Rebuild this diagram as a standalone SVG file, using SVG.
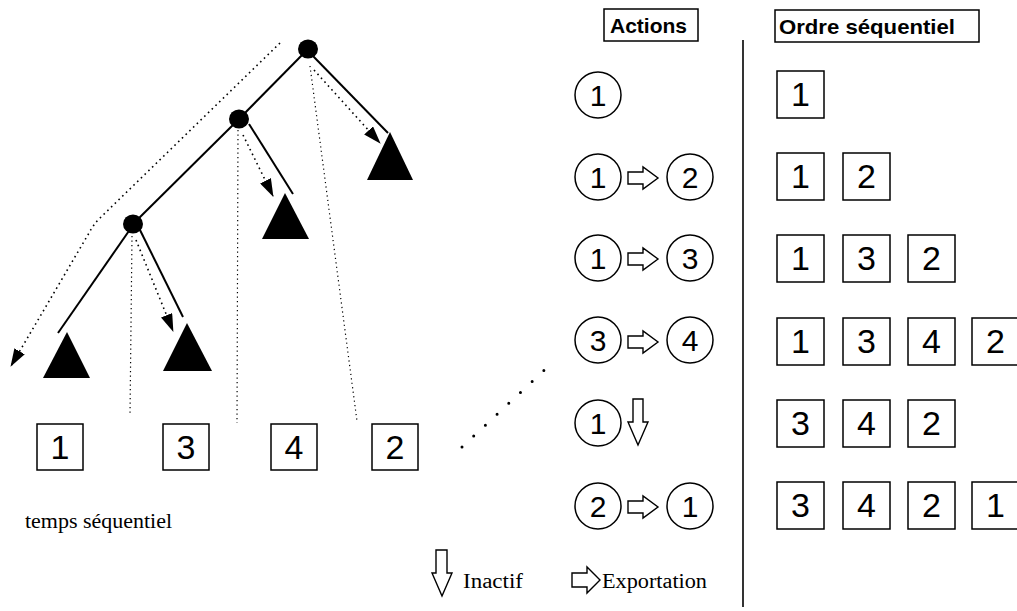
<svg xmlns="http://www.w3.org/2000/svg" width="1017" height="611" viewBox="0 0 1017 611">
<style>
.solid{stroke:#000;stroke-width:2;fill:none}
.dot{stroke:#000;stroke-width:1.6;fill:none;stroke-dasharray:1.6 3.6}
.fdot{stroke:#000;stroke-width:1.2;fill:none;stroke-dasharray:1.2 3.3}
.bigdot{stroke:#000;stroke-width:3;fill:none;stroke-dasharray:0 16;stroke-linecap:round}
.node{fill:#000}
.leaf{fill:#000}
.box{fill:#fff;stroke:#000;stroke-width:1.5}
.circ{fill:#fff;stroke:#000;stroke-width:1.5}
.blk{fill:#fff;stroke:#000;stroke-width:1.4;stroke-linejoin:miter}
.num{font-family:"Liberation Sans",Arial,sans-serif;font-size:34px;text-anchor:middle;fill:#000}
.cnum{font-family:"Liberation Sans",Arial,sans-serif;font-size:30px;text-anchor:middle;fill:#000}
.hdr{font-family:"Liberation Sans",Arial,sans-serif;font-size:21px;font-weight:bold;fill:#000}
.ser{font-family:"Liberation Serif","Times New Roman",serif;font-size:20px;fill:#000}
</style>
<defs>
<marker id="ah" viewBox="0 0 18 12" refX="17" refY="6" markerWidth="18" markerHeight="12" markerUnits="userSpaceOnUse" orient="auto">
<path d="M0,0 L18,6 L0,12 Z" fill="#000"/>
</marker>
</defs>

<g id="connectors">
<line class="solid" x1="308" y1="49" x2="239" y2="119"/>
<line class="solid" x1="312" y1="55" x2="388" y2="133"/>
<line class="solid" x1="239" y1="119" x2="133" y2="224"/>
<line class="solid" x1="249" y1="124" x2="293" y2="194"/>
<line class="solid" x1="131" y1="228" x2="58" y2="333"/>
<line class="solid" x1="139" y1="228" x2="183" y2="317"/>
<line class="dot" x1="314" y1="70" x2="380" y2="143" marker-end="url(#ah)"/>
<line class="dot" x1="243" y1="135" x2="273" y2="196" marker-end="url(#ah)"/>
<line class="dot" x1="136" y1="240" x2="173" y2="331" marker-end="url(#ah)"/>
<path class="dot" d="M280,43 L100,218 Q93,225 89,233 L11,366" marker-end="url(#ah)"/>
<line class="fdot" x1="310" y1="66" x2="357" y2="421"/>
<line class="fdot" x1="238" y1="130" x2="237" y2="423"/>
<line class="fdot" x1="132" y1="236" x2="130" y2="415"/>
<line class="bigdot" x1="462" y1="447" x2="553" y2="362"/>
<line x1="743" y1="40" x2="743" y2="607" stroke="#000" stroke-width="1.6"/>
</g>

<g id="tree-nodes">
<ellipse id="n-root" class="node" cx="308" cy="49" rx="10" ry="9.5"/>
<ellipse id="n-mid" class="node" cx="239" cy="119" rx="10" ry="9.5"/>
<ellipse id="n-low" class="node" cx="133" cy="224" rx="10" ry="9.5"/>
<polygon id="t-right" class="leaf" points="390,132 413,180 367,180"/>
<polygon id="t-mid" class="leaf" points="285,193 309,239 262,239"/>
<polygon id="t-lowr" class="leaf" points="187,323 212,371 163,371"/>
<polygon id="t-lowl" class="leaf" points="67,332 90,378 43,378"/>
</g>

<g id="time-boxes">
<g id="tb1"><rect class="box" x="37" y="424" width="46" height="46"/><text class="num" x="60" y="459">1</text></g>
<g id="tb3"><rect class="box" x="163" y="424" width="46" height="46"/><text class="num" x="186" y="459">3</text></g>
<g id="tb4"><rect class="box" x="271" y="424" width="46" height="46"/><text class="num" x="294" y="459">4</text></g>
<g id="tb2"><rect class="box" x="372" y="424" width="46" height="46"/><text class="num" x="395" y="459">2</text></g>
</g>

<text id="lbl-temps" class="ser" x="25" y="528" textLength="147" lengthAdjust="spacingAndGlyphs">temps séquentiel</text>

<g id="hdr-actions"><rect class="box" x="604" y="9" width="94" height="32"/><text class="hdr" x="610" y="33">Actions</text></g>
<g id="hdr-ordre"><rect class="box" x="775" y="10" width="204" height="32"/><text class="hdr" x="779" y="34" textLength="176" lengthAdjust="spacingAndGlyphs">Ordre séquentiel</text></g>

<g id="actions">
<g id="a1"><circle class="circ" cx="598" cy="95" r="23"/><text class="cnum" x="598" y="106">1</text></g>
<g id="a2">
<circle class="circ" cx="598" cy="177" r="23"/><text class="cnum" x="598" y="188">1</text>
<path class="blk" d="M628,172 H643 V167 L658,178 L643,189 V184 H628 Z"/>
<circle class="circ" cx="690" cy="177" r="23"/><text class="cnum" x="690" y="188">2</text>
</g>
<g id="a3">
<circle class="circ" cx="598" cy="258" r="23"/><text class="cnum" x="598" y="269">1</text>
<path class="blk" d="M628,253 H643 V248 L658,259 L643,270 V265 H628 Z"/>
<circle class="circ" cx="690" cy="258" r="23"/><text class="cnum" x="690" y="269">3</text>
</g>
<g id="a4">
<circle class="circ" cx="598" cy="340" r="23"/><text class="cnum" x="598" y="351">3</text>
<path class="blk" d="M628,336 H643 V331 L658,342 L643,353 V348 H628 Z"/>
<circle class="circ" cx="690" cy="340" r="23"/><text class="cnum" x="690" y="351">4</text>
</g>
<g id="a5">
<circle class="circ" cx="598" cy="423" r="23"/><text class="cnum" x="598" y="434">1</text>
<path class="blk" d="M633,399 H643 V422 H648 L638,445 L628,422 H633 Z"/>
</g>
<g id="a6">
<circle class="circ" cx="598" cy="506" r="23"/><text class="cnum" x="598" y="517">2</text>
<path class="blk" d="M628,501 H643 V496 L658,507 L643,518 V513 H628 Z"/>
<circle class="circ" cx="690" cy="506" r="23"/><text class="cnum" x="690" y="517">1</text>
</g>
</g>

<g id="order">
<g id="o1"><rect class="box" x="777" y="71" width="47" height="47"/><text class="num" x="800.5" y="106">1</text></g>
<g id="o2">
<rect class="box" x="777" y="153" width="47" height="47"/><text class="num" x="800.5" y="188">1</text>
<rect class="box" x="843" y="153" width="47" height="47"/><text class="num" x="866.5" y="188">2</text>
</g>
<g id="o3">
<rect class="box" x="777" y="235" width="47" height="47"/><text class="num" x="800.5" y="270">1</text>
<rect class="box" x="843" y="235" width="47" height="47"/><text class="num" x="866.5" y="270">3</text>
<rect class="box" x="908" y="235" width="47" height="47"/><text class="num" x="931.5" y="270">2</text>
</g>
<g id="o4">
<rect class="box" x="777" y="318" width="47" height="47"/><text class="num" x="800.5" y="353">1</text>
<rect class="box" x="843" y="318" width="47" height="47"/><text class="num" x="866.5" y="353">3</text>
<rect class="box" x="908" y="318" width="47" height="47"/><text class="num" x="931.5" y="353">4</text>
<rect class="box" x="972" y="318" width="47" height="47"/><text class="num" x="995.5" y="353">2</text>
</g>
<g id="o5">
<rect class="box" x="777" y="400" width="47" height="47"/><text class="num" x="800.5" y="435">3</text>
<rect class="box" x="843" y="400" width="47" height="47"/><text class="num" x="866.5" y="435">4</text>
<rect class="box" x="908" y="400" width="47" height="47"/><text class="num" x="931.5" y="435">2</text>
</g>
<g id="o6">
<rect class="box" x="777" y="482" width="47" height="47"/><text class="num" x="800.5" y="517">3</text>
<rect class="box" x="843" y="482" width="47" height="47"/><text class="num" x="866.5" y="517">4</text>
<rect class="box" x="908" y="482" width="47" height="47"/><text class="num" x="931.5" y="517">2</text>
<rect class="box" x="972" y="482" width="47" height="47"/><text class="num" x="995.5" y="517">1</text>
</g>
</g>

<g id="legend">
<g id="lg-inactif">
<path class="blk" d="M436,550 H447 V573 H452 L442,596 L432,573 H436 Z"/>
<text class="ser" x="463" y="588" textLength="60" lengthAdjust="spacingAndGlyphs">Inactif</text>
</g>
<g id="lg-export">
<path class="blk" d="M572,573 H587 V567 L600,580 L587,593 V587 H572 Z"/>
<text class="ser" x="602" y="588" textLength="105" lengthAdjust="spacingAndGlyphs">Exportation</text>
</g>
</g>
</svg>
